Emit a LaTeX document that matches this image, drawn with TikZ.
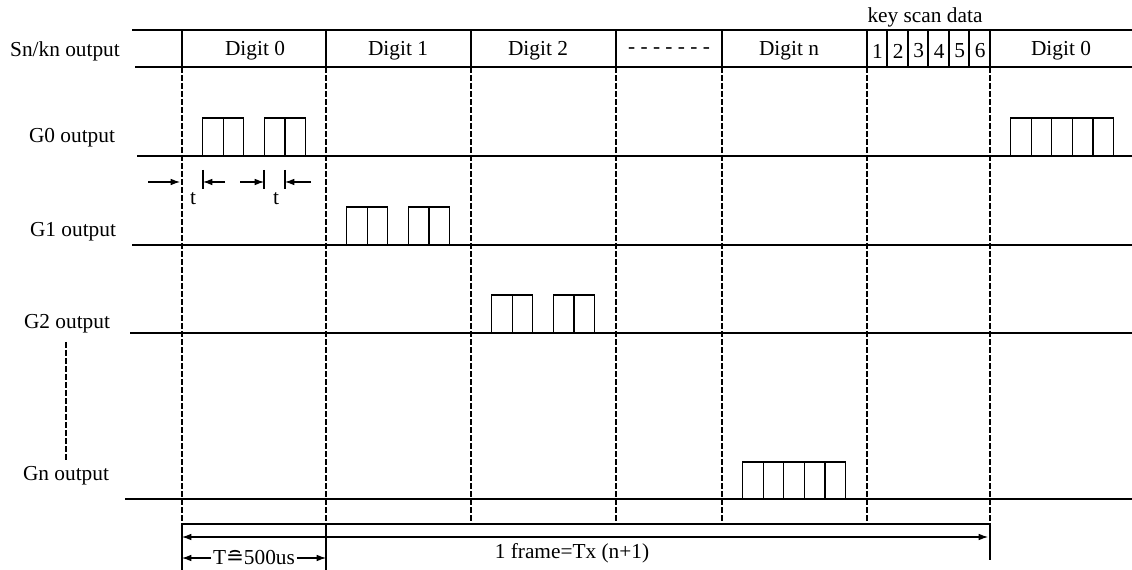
\documentclass[tikz,border=0pt]{standalone}
\usepackage{fontspec}
\setmainfont{Liberation Serif}
\newfontfamily\symfont{DejaVu Sans}
\usetikzlibrary{arrows.meta}

\begin{document}
\begin{tikzpicture}[x=0.75pt,y=-0.75pt,line width=0.8pt,
        lbl/.style = {font=\fontsize{16}{19}\selectfont, inner sep=1pt},
        grid/.style = {dash pattern=on 4.5pt off 1.5pt},
        >={Latex[length=7pt,width=5pt]}]
        \useasboundingbox (0,0) rectangle (1132,570);
        % header row
        \draw (132,30) -- (1132,30);
        \draw (135,67) -- (1132,67);
        \foreach \x in {182,326,471,616,722,867,887,908,928,949,969,990}
            \draw (\x,30) -- (\x,67);
        \foreach \x in {182,326,471,616,722,867,990}
            \draw[grid] (\x,67) -- (\x,524);
        \draw (182,524) -- (182,570);
        \draw (326,524) -- (326,570);
        \draw (990,524) -- (990,560);
        \node[lbl] (snk) at (65,51) {Sn/kn output};
        \node[lbl] (d0) at (255,51) {Digit 0};
        \node[lbl] (d1) at (398,51) {Digit 1};
        \node[lbl] (d2) at (538,51) {Digit 2};
        \node[lbl] (dd) at (669,51) {- - - - - - -};
        \node[lbl] (dn) at (789,51) {Digit n};
        \node[lbl] (d0b) at (1061,51) {Digit 0};
        \node[lbl] (ksd) at (925,17) {key scan data};
        \foreach \i in {1,...,6}
            \node[lbl] (k\i) at (857+\i*20.55,51) {\i};
        % output rows
        \node[lbl] (g0) at (72,138) {G0 output};
        \node[lbl] (g1) at (73,232) {G1 output};
        \node[lbl] (g2) at (67,324) {G2 output};
        \node[lbl] (gn) at (66,476) {Gn output};
        \draw[grid] (66,342) -- (66,462);
        \draw (137,156) -- (1132,156);
        \draw (132,245) -- (1132,245);
        \draw (130,333) -- (1132,333);
        \draw (125,499) -- (1132,499);
        \foreach \s/\y in {182/156,326/245,471/333}
            \foreach \k in {1,2,4,5}
                \draw (\s+\k*20.6,\y) rectangle +(20.6,-38);
        \foreach \k in {1,...,5} {
            \draw (722+\k*20.6,499) rectangle +(20.6,-37);
            \draw (990+\k*20.6,156) rectangle +(20.6,-38);
        }
        % t
        \coordinate (ta) at (203,182);
        \coordinate (tb) at (264,182);
        \coordinate (tc) at (285,182);
        \draw (ta) ++(0,-12) -- ++(0,19);
        \draw (tb) ++(0,-12) -- ++(0,19);
        \draw (tc) ++(0,-12) -- ++(0,19);
        \draw[->] (148,182) -- (180,182);
        \draw[->] (225,182) -- (ta);
        \draw[->] (240,182) -- (tb);
        \draw[->] (311,182) -- (tc);
        \node[lbl] (t1) at (193,199) {t};
        \node[lbl] (t2) at (276,199) {t};
        % frame
        \draw (182,524) -- (990,524);
        \draw[<->] (182,537) -- (988,537);
        \node[lbl] (fr) at (572,553) {1 frame=Tx (n+1)};
        \node[lbl] (per) at (254,558) {T{\symfont ≘}500us};
        \draw[->] (per) -- (182,558);
        \draw[->] (per) -- (326,558);
\end{tikzpicture}
\end{document}
